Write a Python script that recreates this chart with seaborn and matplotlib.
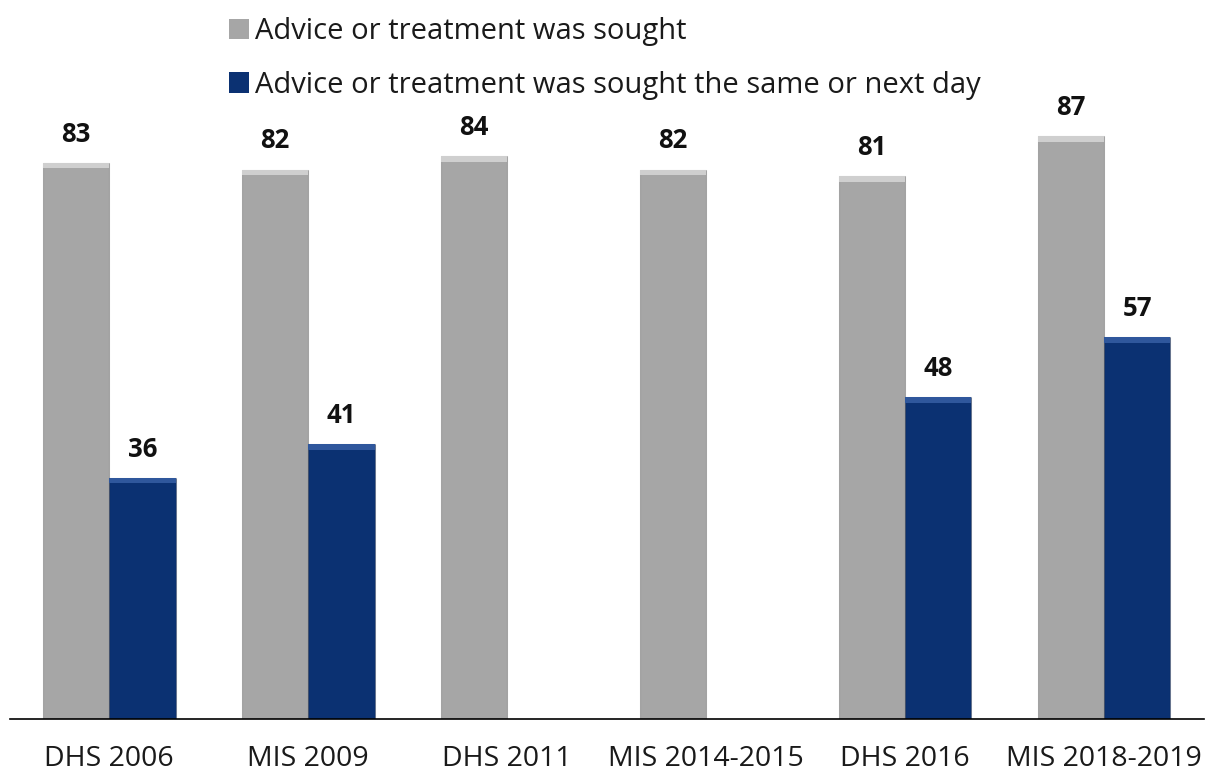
import numpy as np
import pandas as pd
import matplotlib
matplotlib.use("Agg")
import matplotlib.pyplot as plt
import seaborn as sns
from matplotlib.patches import Patch, Rectangle

categories = ["DHS 2006", "MIS 2009", "DHS 2011", "MIS 2014-2015", "DHS 2016", "MIS 2018-2019"]
sought = [83, 82, 84, 82, 81, 87]
sought_same_day = [36, 41, np.nan, np.nan, 48, 57]
series_names = ["Advice or treatment was sought",
                "Advice or treatment was sought the same or next day"]
colors = ["#A6A6A6", "#0B3172"]
highlights = ["#CFCFCF", "#2F579C"]

df = pd.DataFrame({
    "survey": categories * 2,
    "series": [series_names[0]] * 6 + [series_names[1]] * 6,
    "value": sought + sought_same_day,
})

sns.set_theme(style="white")
plt.rcParams["font.family"] = ["Open Sans", "DejaVu Sans"]

fig = plt.figure(figsize=(12.12, 7.77), dpi=100)
ax = fig.add_axes([0.008, 0.0746, 0.985, 0.776])

sns.barplot(data=df, x="survey", y="value", hue="series", order=categories,
            hue_order=series_names, palette=colors, width=0.667, ax=ax,
            saturation=1, edgecolor="none", legend=False)

ax.set_ylim(0, 90)
ax.set_xlim(-0.5, 5.5)
ax.set_xlabel("")
ax.set_ylabel("")
ax.set_yticks([])
for s in ["top", "right", "left"]:
    ax.spines[s].set_visible(False)
ax.spines["bottom"].set_color("black")
ax.spines["bottom"].set_linewidth(1.2)
ax.tick_params(axis="x", length=0, pad=19, labelsize=20.5, labelcolor="#1a1a1a")

# subtle bevel highlight on bar tops
for cont, hl in zip(ax.containers, highlights):
    for p in cont.patches:
        h = p.get_height()
        if np.isfinite(h) and h > 0:
            ax.add_patch(Rectangle((p.get_x(), h - 0.8), p.get_width(), 0.8,
                                   facecolor=hl, edgecolor="none",
                                   zorder=p.get_zorder() + 0.1))
            p.set_edgecolor("#00000038")
            p.set_linewidth(0.8)

for cont in ax.containers:
    labels = ["" if np.isnan(v) else f"{v:.0f}" for v in cont.datavalues]
    ax.bar_label(cont, labels=labels, padding=11, fontsize=18.5, fontweight="bold",
                 color="#111111")

handles = [Patch(facecolor=c, edgecolor="none") for c in colors]
fig.legend(handles, series_names, loc="upper left", bbox_to_anchor=(0.167, 1.012),
           frameon=False, fontsize=21, handlelength=0.7, handleheight=0.7,
           handletextpad=0.2, labelspacing=0.85, labelcolor="#1a1a1a")

fig.savefig("out.png", dpi=100)
